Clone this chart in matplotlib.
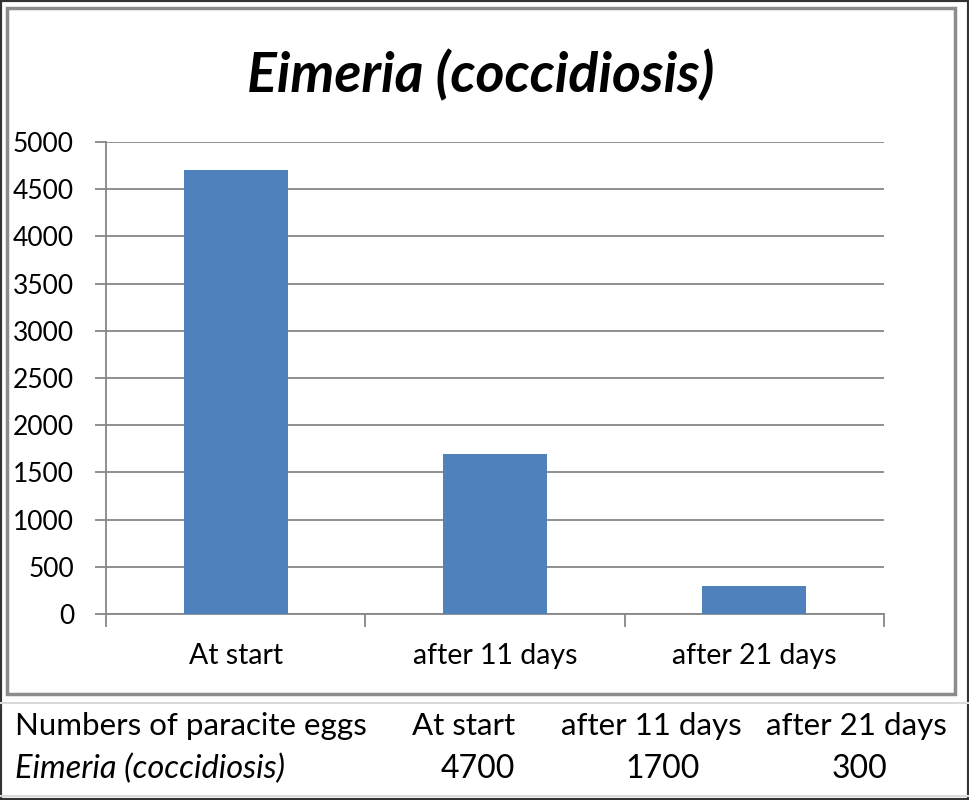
import matplotlib
import matplotlib.pyplot as plt
from matplotlib.patches import Rectangle
from matplotlib.lines import Line2D

categories = ['At start', 'after 11 days', 'after 21 days']
egg_counts = [4700, 1700, 300]
y_ticks = [0, 500, 1000, 1500, 2000, 2500, 3000, 3500, 4000, 4500, 5000]
title = 'Eimeria (coccidiosis)'
table_header = 'Numbers of paracite eggs'

BAR_COLOR = '#4F81BD'
GRID_COLOR = '#878787'
FONT = 'Lato'


def px(x, y):
    # pixel coords (top-left origin) -> figure fraction
    return x / 969.0, 1 - y / 800.0


def main():
    plt.rcParams['font.family'] = [FONT, 'DejaVu Sans']
    fig = plt.figure(figsize=(9.69, 8), dpi=100)

    # chart frame and outer border
    x0, y0 = px(7, 694)
    x1, y1 = px(955, 8)
    fig.patches.append(Rectangle((x0, y0), x1 - x0, y1 - y0, transform=fig.transFigure,
                                 fill=False, edgecolor='#8c8c8c', lw=2.5))
    fig.patches.append(Rectangle((0, 0), 1, 1, transform=fig.transFigure,
                                 fill=False, edgecolor='#333333', lw=3))
    for yy in (703, 796):
        a, b = px(0, yy)
        fig.lines.append(Line2D([0, 1], [b, b], transform=fig.transFigure,
                                color='#d9d9d9', lw=1.5))

    left, bottom = px(106, 614)
    right, top = px(884, 142)
    ax = fig.add_axes([left, bottom, right - left, top - bottom])

    xs = range(len(categories))
    ax.bar(xs, egg_counts, width=0.4, color=BAR_COLOR, zorder=3)
    ax.set_xlim(-0.5, len(categories) - 0.5)
    ax.set_ylim(0, 5000)
    ax.set_yticks(y_ticks)
    ax.set_yticklabels([str(v) for v in y_ticks], fontsize=19)
    ax.yaxis.grid(True, color=GRID_COLOR, lw=1.3, zorder=0)
    ax.tick_params(axis='y', length=8, width=1.3, color=GRID_COLOR, pad=15)

    ax.set_xticks(list(xs))
    ax.set_xticklabels(categories, fontsize=20.5)
    ax.tick_params(axis='x', which='major', length=0, pad=21)
    ax.set_xticks([i - 0.5 for i in range(len(categories) + 1)], minor=True)
    ax.tick_params(axis='x', which='minor', length=9, width=1.3, color=GRID_COLOR)

    for side in ('top', 'right'):
        ax.spines[side].set_visible(False)
    for side in ('left', 'bottom'):
        ax.spines[side].set_color(GRID_COLOR)
        ax.spines[side].set_linewidth(1.3)

    tx, ty = px(481, 75)
    fig.text(tx, ty, title, fontsize=40, fontweight='bold', fontstyle='italic',
             ha='center', va='center')

    # data table below the chart
    ry1 = px(0, 726)[1]
    ry2 = px(0, 769)[1]
    fig.text(px(15, 0)[0], ry1, table_header, fontsize=22.5, va='center')
    col_right = [515, 742, 947]
    for c, label in zip(col_right, categories):
        fig.text(px(c, 0)[0], ry1, label, fontsize=22.5, va='center', ha='right')
    fig.text(px(15, 0)[0], ry2, title, fontsize=23.5, fontstyle='italic', va='center')
    val_right = [515, 700, 887]
    for c, v in zip(val_right, egg_counts):
        fig.text(px(c, 0)[0], ry2, str(v), fontsize=23, va='center', ha='right')

    fig.savefig('out.png', dpi=100)


if __name__ == '__main__':
    main()
